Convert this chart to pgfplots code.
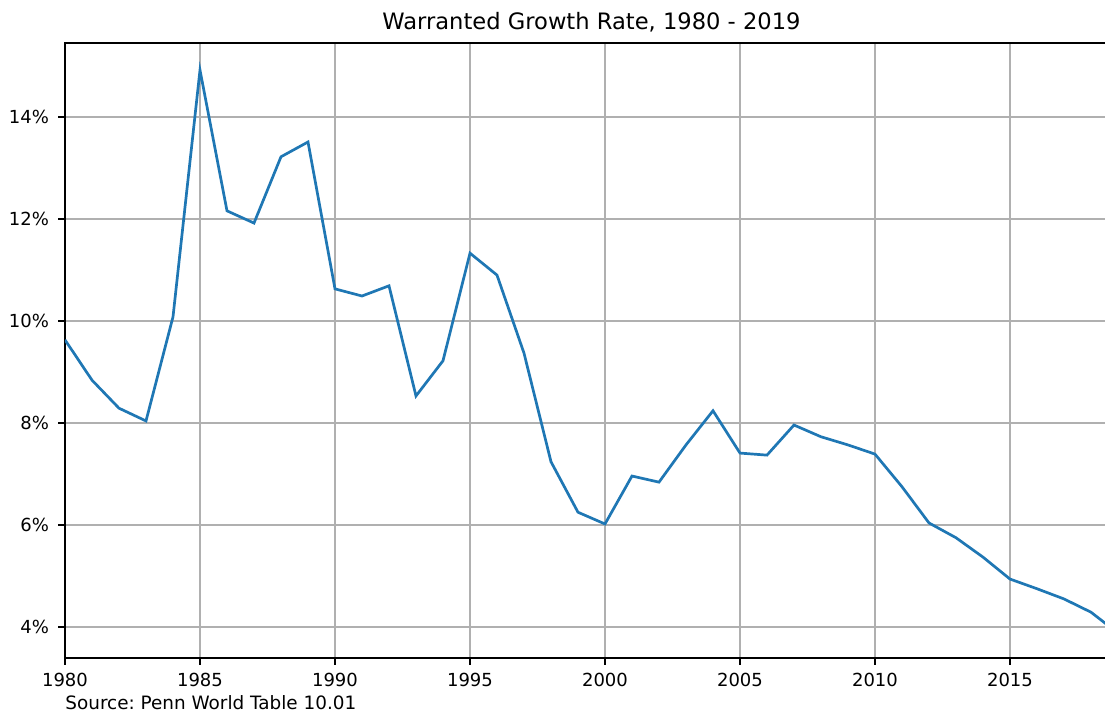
\documentclass[border=0pt]{standalone}
\usepackage{pgfplots}
\pgfplotsset{compat=1.18}
\usepackage{fontspec}
\setmainfont{DejaVu Sans}
\definecolor{mplblue}{HTML}{1F77B4}
\frenchspacing
\begin{document}
\begin{tikzpicture}
\useasboundingbox (0,0) rectangle (552.5pt,356.5pt);
\clip (0,0) rectangle (552.5pt,356.5pt);
\begin{axis}[
  at={(32.5pt,27.5pt)}, anchor=south west,
  scale only axis, width=526.5pt, height=307.5pt,
  xmin=1980, xmax=2019, ymin=3.392, ymax=15.451,
  xtick={1980,1985,...,2015},
  ytick={4,6,...,14},
  yticklabel={\pgfmathprintnumber{\tick}\%},
  /pgf/number format/.cd, 1000 sep={}, assume math mode=true,
  /pgfplots/.cd,
  tick align=outside, tick pos=left,
  major tick length=3.5pt,
  tick style={black, line width=0.7pt},
  grid=major,
  major grid style={color=black!31, line width=0.72pt},
  axis line style={line width=0.7pt},
  ticklabel style={font=\fontsize{9}{10}\selectfont},
  xticklabel style={yshift=-0.5pt},
  yticklabel style={xshift=-1pt},
]
\addplot[color=mplblue, line width=1.35pt] coordinates {
(1980,9.63) (1981,8.84) (1982,8.29) (1983,8.04) (1984,10.08)
(1985,14.92) (1986,12.16) (1987,11.92) (1988,13.22) (1989,13.51)
(1990,10.63) (1991,10.49) (1992,10.69) (1993,8.53) (1994,9.22)
(1995,11.33) (1996,10.90) (1997,9.37) (1998,7.24) (1999,6.25)
(2000,6.02) (2001,6.96) (2002,6.84) (2003,7.57) (2004,8.24)
(2005,7.41) (2006,7.37) (2007,7.96) (2008,7.73) (2009,7.57)
(2010,7.39) (2011,6.75) (2012,6.04) (2013,5.75) (2014,5.37)
(2015,4.94) (2016,4.75) (2017,4.55) (2018,4.29) (2019,3.88)
};
\end{axis}
\node[anchor=base, font=\fontsize{11.3}{12}\selectfont] at (295.75pt,341.5pt) {Warranted Growth Rate, 1980 - 2019};
\node[anchor=base west, inner sep=0pt, font=\fontsize{9.2}{10}\selectfont] at (32.5pt,1.5pt) {Source: Penn World Table 10.01};
\end{tikzpicture}
\end{document}
